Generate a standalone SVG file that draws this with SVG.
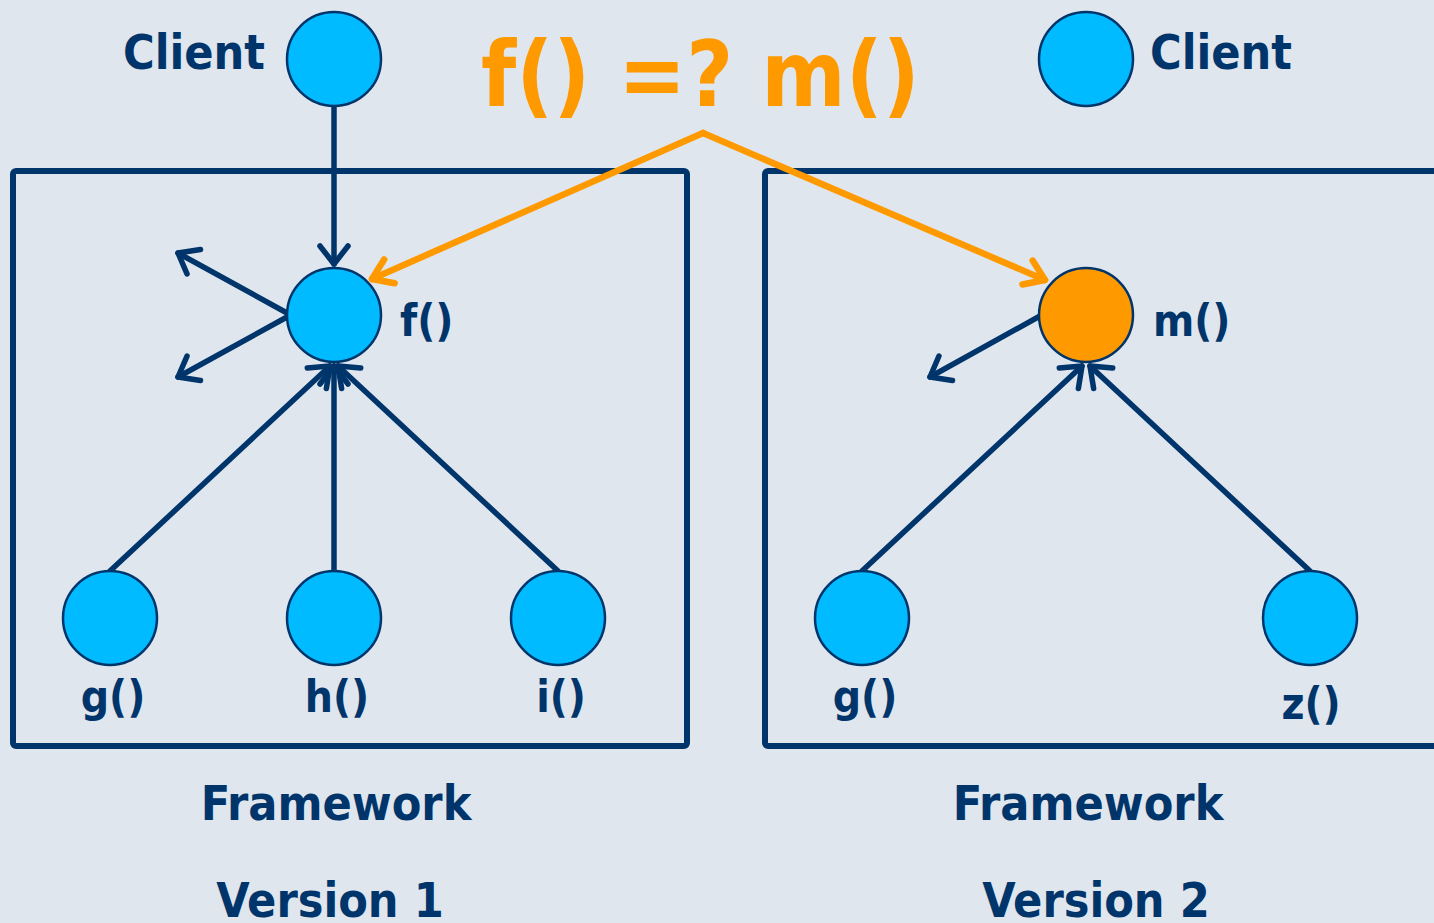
<svg xmlns="http://www.w3.org/2000/svg" width="1434" height="923" viewBox="0 0 1434 923">
<defs>
<style>
.bg{fill:#e0e6ed}
.box{fill:none;stroke:#00356b;stroke-width:6}
.n{fill:#00bbff;stroke:#00356b;stroke-width:2.5}
.hot{fill:#ff9900;stroke:#00356b;stroke-width:2.5}
.c{fill:none;stroke:#00356b;stroke-width:5.5;stroke-linecap:round}
.o{fill:none;stroke:#ff9900;stroke-width:6.5;stroke-linecap:round}
.t{font-family:"DejaVu Sans Condensed","DejaVu Sans",sans-serif;font-weight:bold;fill:#00356b}
.big{font-family:"DejaVu Sans Condensed","DejaVu Sans",sans-serif;font-weight:bold;fill:#ff9900;font-size:90px}
</style>
<marker id="ah" viewBox="-26 -20 30 40" refX="0" refY="0" markerWidth="30" markerHeight="40" markerUnits="userSpaceOnUse" orient="auto">
<path d="M-18,-14 L0,0 L-18,14" fill="none" stroke="#00356b" stroke-width="5.5" stroke-linecap="round" stroke-linejoin="round"/>
</marker>
<marker id="ao" viewBox="-26 -20 30 40" refX="0" refY="0" markerWidth="30" markerHeight="40" markerUnits="userSpaceOnUse" orient="auto">
<path d="M-19,-13 L0,0 L-19,13" fill="none" stroke="#ff9900" stroke-width="6.5" stroke-linecap="round" stroke-linejoin="round"/>
</marker>
</defs>
<rect class="bg" x="0" y="0" width="1434" height="923"/>
<g id="framework1"><rect class="box" x="13" y="171" width="674" height="575" rx="3"/></g>
<g id="framework2"><rect class="box" x="765" y="171" width="700" height="575" rx="3"/></g>
<g id="connectors">
<line class="c" x1="334" y1="106" x2="334" y2="264" marker-end="url(#ah)"/>
<line class="c" x1="287" y1="313" x2="178" y2="253" marker-end="url(#ah)"/>
<line class="c" x1="287" y1="317" x2="178" y2="377" marker-end="url(#ah)"/>
<line class="c" x1="110" y1="571" x2="330" y2="366" marker-end="url(#ah)"/>
<line class="c" x1="334" y1="571" x2="334" y2="366" marker-end="url(#ah)"/>
<line class="c" x1="558" y1="571" x2="338" y2="366" marker-end="url(#ah)"/>
<line class="c" x1="1040" y1="316" x2="930" y2="377" marker-end="url(#ah)"/>
<line class="c" x1="862" y1="571" x2="1082" y2="366" marker-end="url(#ah)"/>
<line class="c" x1="1310" y1="571" x2="1090" y2="366" marker-end="url(#ah)"/>
<line class="o" x1="703" y1="133" x2="372" y2="279" marker-end="url(#ao)"/>
<line class="o" x1="703" y1="133" x2="1045" y2="280" marker-end="url(#ao)"/>
</g>
<g id="client1"><circle class="n" cx="334" cy="59" r="47"/><text class="t" x="265" y="69" font-size="48" text-anchor="end">Client</text></g>
<g id="f"><circle class="n" cx="334" cy="315" r="47"/><text class="t" x="400" y="336" font-size="44">f()</text></g>
<g id="g1"><circle class="n" cx="110" cy="618" r="47"/><text class="t" x="113" y="712" font-size="44" text-anchor="middle">g()</text></g>
<g id="h"><circle class="n" cx="334" cy="618" r="47"/><text class="t" x="337" y="712" font-size="44" text-anchor="middle">h()</text></g>
<g id="i"><circle class="n" cx="558" cy="618" r="47"/><text class="t" x="561" y="712" font-size="44" text-anchor="middle">i()</text></g>
<g id="client2"><circle class="n" cx="1086" cy="59" r="47"/><text class="t" x="1150" y="69" font-size="48">Client</text></g>
<g id="m"><circle class="hot" cx="1086" cy="315" r="47"/><text class="t" x="1153" y="336" font-size="44">m()</text></g>
<g id="g2"><circle class="n" cx="862" cy="618" r="47"/><text class="t" x="865" y="712" font-size="44" text-anchor="middle">g()</text></g>
<g id="z"><circle class="n" cx="1310" cy="618" r="47"/><text class="t" x="1311" y="719" font-size="44" text-anchor="middle">z()</text></g>
<g id="title"><text class="big" x="481" y="106">f() =? m()</text></g>
<g id="label1"><text class="t" x="336" y="820" font-size="48" text-anchor="middle">Framework</text><text class="t" x="330" y="917" font-size="48" text-anchor="middle">Version 1</text></g>
<g id="label2"><text class="t" x="1088" y="820" font-size="48" text-anchor="middle">Framework</text><text class="t" x="1096" y="917" font-size="48" text-anchor="middle">Version 2</text></g>
</svg>
